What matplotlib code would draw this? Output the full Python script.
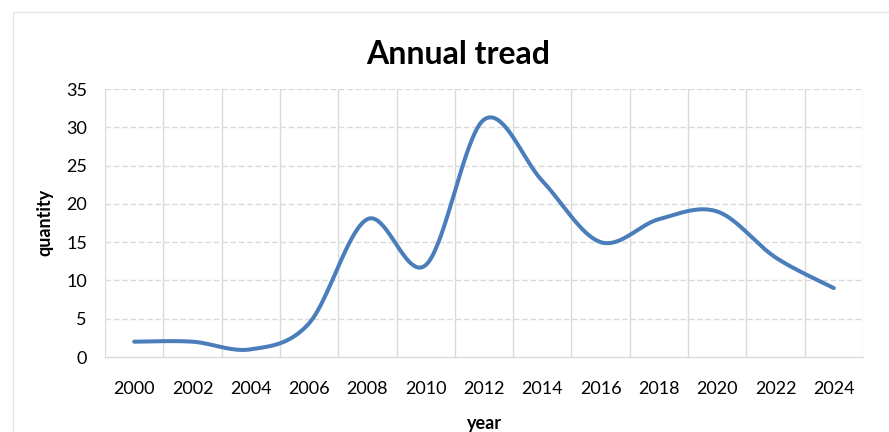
import numpy as np
import matplotlib
matplotlib.use("Agg")
import matplotlib.pyplot as plt
from matplotlib.patches import Rectangle

plt.rcParams['font.family'] = ['Lato', 'DejaVu Sans']

years = ["2000", "2002", "2004", "2006", "2008", "2010", "2012",
         "2014", "2016", "2018", "2020", "2022", "2024"]
quantity = [2, 2, 1, 4.4, 18, 12, 31, 23, 15, 18, 19, 13, 9]
y_ticks = [0, 5, 10, 15, 20, 25, 30, 35]

W, H = 889, 432
fig = plt.figure(figsize=(W / 100, H / 100), dpi=100)

# chart frame
fig.patches.append(Rectangle((12.5 / W, -0.1), 2.0, 1.1 - 12.5 / H,
                             transform=fig.transFigure, fill=False,
                             edgecolor='#e3e3e3', linewidth=0.9))

ax = fig.add_axes([105 / W, (H - 357) / H, 758 / W, 268 / H])


def smooth_curve(xs, ys, steps=40):
    """Catmull-Rom style smoothing via cubic Bezier segments."""
    p = np.column_stack([xs, ys]).astype(float)
    ext = np.vstack([p[0], p, p[-1]])
    out = []
    t = np.linspace(0, 1, steps)[:, None]
    for i in range(len(p) - 1):
        p0, p1, p2, p3 = ext[i], ext[i + 1], ext[i + 2], ext[i + 3]
        c1 = p1 + (p2 - p0) / 6
        c2 = p2 - (p3 - p1) / 6
        seg = ((1 - t) ** 3) * p1 + 3 * ((1 - t) ** 2) * t * c1 \
            + 3 * (1 - t) * t ** 2 * c2 + t ** 3 * p2
        out.append(seg if i == 0 else seg[1:])
    pts = np.vstack(out)
    return pts[:, 0], pts[:, 1]


x = np.arange(len(years))
sx, sy = smooth_curve(x, quantity)

grid_col = '#dadada'
ax.set_xlim(-0.5, len(years) - 0.5)
ax.set_ylim(0, 35)

# horizontal dashed grid
for v in y_ticks[1:]:
    ax.axhline(v, color=grid_col, lw=1.0, ls=(0, (4, 2)), zorder=1)
# vertical solid grid at category boundaries
for b in np.arange(-0.5, len(years), 1.0):
    ax.axvline(b, color=grid_col, lw=1.0, zorder=1)

ax.plot(sx, sy, color='#4a7ebb', lw=2.9, solid_capstyle='round', zorder=3)

for side in ['top', 'left', 'right']:
    ax.spines[side].set_visible(False)
ax.spines['bottom'].set_color(grid_col)
ax.spines['bottom'].set_linewidth(1.0)

ax.set_xticks(x)
ax.set_xticklabels(years)
ax.set_yticks(y_ticks)
ax.tick_params(axis='both', length=0, labelsize=13, colors='#000000')
ax.tick_params(axis='x', pad=17)
ax.tick_params(axis='y', pad=13)
ax.set_facecolor('white')

fig.text(458 / W, 1 - 54 / H, "Annual tread", ha='center', va='center',
         fontsize=23, fontweight='bold')
fig.text(484 / W, 1 - 423 / H, "year", ha='center', va='center',
         fontsize=13, fontweight='bold')
fig.text(45 / W, 1 - 222 / H, "quantity", ha='center', va='center',
         rotation=90, fontsize=13, fontweight='bold')

fig.savefig("out.png", dpi=100)
